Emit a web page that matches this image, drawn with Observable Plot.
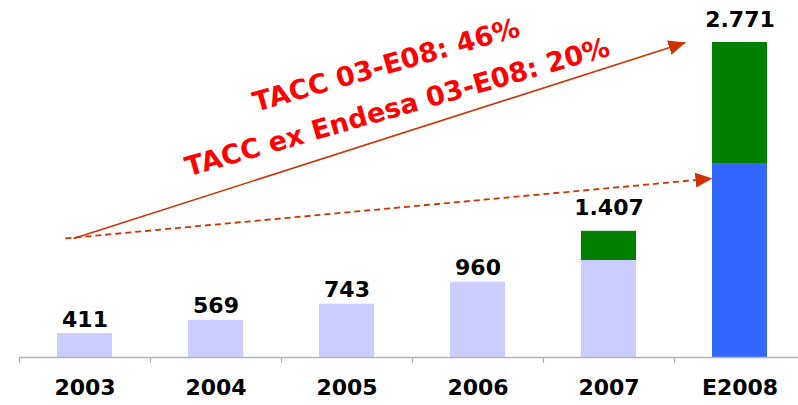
<!DOCTYPE html>
<html>
<head>
<meta charset="utf-8">
<script src="https://cdn.jsdelivr.net/npm/d3@7"></script>
<script src="https://cdn.jsdelivr.net/npm/@observablehq/plot@0.6"></script>
<style>
  html, body { margin: 0; padding: 0; background: #ffffff; }
  #chart svg { display: block; }
</style>
</head>
<body>
<div id="chart"></div>
<script>
// ---- data ----
const categories = ["2003", "2004", "2005", "2006", "2007", "E2008"];
const totals     = [411, 569, 743, 960, 1407, 2771];
const exEndesa   = [411, 569, 743, 960, 1158, 1935];   // lower segment
const endesa     = [0, 0, 0, 0, 249, 836];             // upper (green) segment
const lowerKind  = ["real", "real", "real", "real", "real", "estimado"];

// growth annotations (x in category-index units, y in chart value units)
const growthLabels = ["TACC 03-E08: 46%", "TACC ex Endesa 03-E08: 20%"];
const growthX      = [2.80, 2.885];
const growthY      = [2620, 2335];

// arrows: start / end (x in category-index units, y in value units)
const arrowKind = ["total", "exEndesa"];
const arrowX1 = [0.412, 0.351];
const arrowY1 = [1348, 1348];
const arrowX2 = [5.084, 5.29];
const arrowY2 = [2771, 1823];

// ---- tables built from the arrays ----
const segments = categories.flatMap((c, i) => [
  {i, cat: c, part: lowerKind[i], value: exEndesa[i]},
  {i, cat: c, part: "endesa", value: endesa[i]}
]).filter(d => d.value > 0);

const labelRows = categories.map((c, i) => ({i, cat: c, total: totals[i], stacked: endesa[i] > 0}));
const growthRows = growthLabels.map((t, k) => ({text: t, x: growthX[k], y: growthY[k]}));
const arrowRows = arrowKind.map((k, j) => ({kind: k, x1: arrowX1[j], y1: arrowY1[j], x2: arrowX2[j], y2: arrowY2[j]}));

const esFmt = d3.formatLocale({decimal: ",", thousands: ".", grouping: [3], currency: ["", " €"]}).format(",");

const SVGNS = "http://www.w3.org/2000/svg";
function triHead(color, context) {
  const doc = (context && context.document) || document;
  const m = doc.createElementNS(SVGNS, "marker");
  m.setAttribute("viewBox", "0 0 17 15");
  m.setAttribute("markerWidth", 17);
  m.setAttribute("markerHeight", 15);
  m.setAttribute("refX", 17);
  m.setAttribute("refY", 7.5);
  m.setAttribute("orient", "auto");
  m.setAttribute("markerUnits", "userSpaceOnUse");
  const p = doc.createElementNS(SVGNS, "path");
  p.setAttribute("d", "M0,0L17,7.5L0,15Z");
  p.setAttribute("fill", color);
  p.setAttribute("stroke", "none");
  m.appendChild(p);
  return m;
}

const FONT = "'DejaVu Sans', Verdana, sans-serif";
const ARROW = "#cc3300";

const chart = Plot.plot({
  width: 798,
  height: 405,
  marginTop: 42,
  marginBottom: 48,
  marginLeft: 19,
  marginRight: 0,
  style: {fontFamily: FONT, background: "#ffffff", color: "#000000"},
  x: {type: "linear", domain: [0, 6], range: [19, 805], axis: null},
  y: {type: "pow", exponent: 1.35, domain: [0, 2771], axis: null},
  color: {domain: ["real", "estimado", "endesa"], range: ["#ccccff", "#3366ff", "#008000"]},
  marks: [
    Plot.rectY(segments, {x: "i", interval: 1, y: "value", fill: "part", insetLeft: 38, insetRight: 38}),
    Plot.ruleY([0], {stroke: "#b3b3b3", strokeWidth: 1.5}),
    Plot.axisX(d3.range(0, 7), {tickSize: 6, tickFormat: () => "", color: "#b3b3b3", strokeWidth: 1.2, label: null}),
    Plot.axisX(d3.range(0, 6).map(i => i + 0.5), {
      tickSize: 0, tickPadding: 22, tickFormat: d => categories[Math.floor(d)],
      fontSize: 22, fontWeight: "bold", color: "#000000", label: null
    }),
    Plot.text(labelRows.filter(d => !d.stacked), {
      x: d => d.i + 0.5, y: "total", text: d => esFmt(d.total),
      dy: -7, lineAnchor: "bottom", fontSize: 22, fontWeight: "bold", fill: "#000000"
    }),
    Plot.text(labelRows.filter(d => d.stacked), {
      x: d => d.i + 0.5, y: "total", text: d => esFmt(d.total),
      dy: -16, lineAnchor: "bottom", fontSize: 22, fontWeight: "bold", fill: "#000000"
    }),
    Plot.link(arrowRows.filter(d => d.kind === "total"), {
      x1: "x1", y1: "y1", x2: "x2", y2: "y2",
      stroke: ARROW, strokeWidth: 1.6, markerEnd: triHead
    }),
    Plot.link(arrowRows.filter(d => d.kind === "exEndesa"), {
      x1: "x1", y1: "y1", x2: "x2", y2: "y2",
      stroke: ARROW, strokeWidth: 1.8, strokeDasharray: "6,4", markerEnd: triHead
    }),
    Plot.text(growthRows, {
      x: "x", y: "y", text: "text", rotate: -16,
      fontSize: 27, fontWeight: "bold", fill: "#ff0000"
    })
  ]
});

document.getElementById("chart").appendChild(chart);
</script>
</body>
</html>
